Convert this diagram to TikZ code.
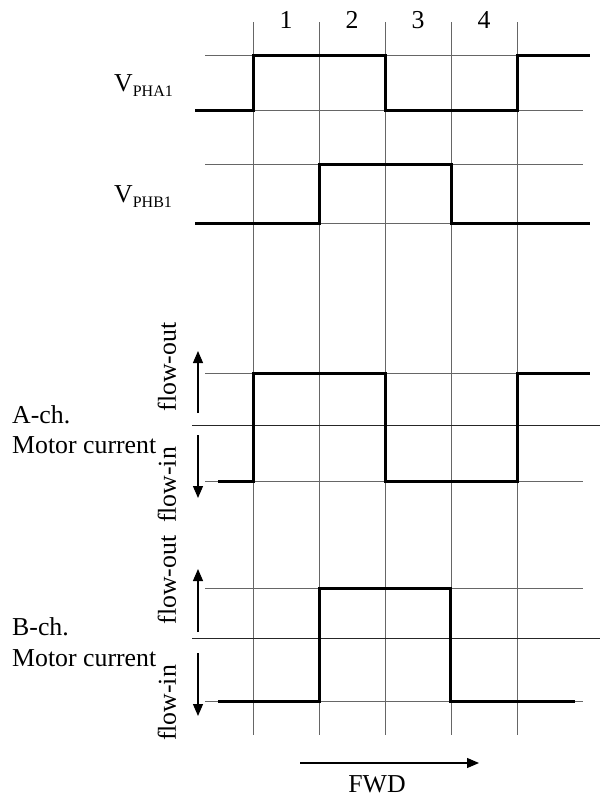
\documentclass[tikz,border=0pt]{standalone}
\usepackage{fontspec}
\setmainfont{Liberation Serif}
\usetikzlibrary{arrows.meta}
\begin{document}
\begin{tikzpicture}[x=1pt,y=-1pt,
  gridline/.style={line width=1pt, black!60},
  midline/.style={line width=1pt, black!85},
  wave/.style={line width=3pt, line join=miter, line cap=butt},
  lbl/.style={font=\fontsize{25.8}{30}\selectfont, inner sep=0pt},
  arr/.style={line width=1.2pt, -{Triangle[length=12pt,width=10pt]}}]
\useasboundingbox (0,0) rectangle (600,796);
% vertical grid
\foreach \x/\n in {253/a,319/b,385/c,451/d,517/e}{
  \coordinate (vt\n) at (\x,22);
  \coordinate (vb\n) at (\x,735);
  \draw[gridline] (vt\n) -- (vb\n);
}
% horizontal grid lines
\foreach \y/\n in {55/a1,110/a2,164/b1,223/b2,373/c1,481/c2,588/d1,701/d2}{
  \coordinate (hl\n) at (205,\y);
  \coordinate (hr\n) at (583,\y);
  \draw[gridline] (hl\n) -- (hr\n);
}
\foreach \y/\n in {425/c,638/d}{
  \coordinate (ml\n) at (192,\y);
  \coordinate (mr\n) at (600,\y);
  \draw[midline] (ml\n) -- (mr\n);
}
% waveforms
\draw[wave] (195,110) -- (253,110) -- (253,55) -- (385,55) -- (385,110) -- (517,110) -- (517,55) -- (590,55);
\draw[wave] (195,223) -- (319,223) -- (319,164) -- (451,164) -- (451,223) -- (590,223);
\draw[wave] (218,481) -- (253,481) -- (253,373) -- (385,373) -- (385,481) -- (517,481) -- (517,373) -- (590,373);
\draw[wave] (218,701) -- (319,701) -- (319,588) -- (450,588) -- (450,701) -- (575,701);
% phase numbers
\node[lbl, anchor=base] (n1) at (286,28) {1};
\node[lbl, anchor=base] (n2) at (352,28) {2};
\node[lbl, anchor=base] (n3) at (418,28) {3};
\node[lbl, anchor=base] (n4) at (484,28) {4};
% V labels
\node[lbl, anchor=base west] (vpha) at (114,91) {V\raisebox{-5pt}{\fontsize{16}{18}\selectfont PHA1}};
\node[lbl, anchor=base west] (vphb) at (114,202) {V\raisebox{-5pt}{\fontsize{16}{18}\selectfont PHB1}};
% channel labels
\node[lbl, anchor=base west] (ach) at (12,423) {A-ch.};
\node[lbl, anchor=base west] (amc) at (12,453) {Motor current};
\node[lbl, anchor=base west] (bch) at (12,635) {B-ch.};
\node[lbl, anchor=base west] (bmc) at (12,666) {Motor current};
% flow labels
\node[lbl, rotate=90] (afo) at (167,367) {flow-out};
\node[lbl, rotate=90] (afi) at (167,485) {flow-in};
\node[lbl, rotate=90] (bfo) at (167,580) {flow-out};
\node[lbl, rotate=90] (bfi) at (167,703) {flow-in};
% flow arrows
\coordinate (au0) at (198,413); \coordinate (au1) at (198,351);
\coordinate (ad0) at (198,435); \coordinate (ad1) at (198,498);
\coordinate (bu0) at (198,632); \coordinate (bu1) at (198,569);
\coordinate (bd0) at (198,653); \coordinate (bd1) at (198,716);
\draw[arr] (au0) -- (au1);
\draw[arr] (ad0) -- (ad1);
\draw[arr] (bu0) -- (bu1);
\draw[arr] (bd0) -- (bd1);
% FWD
\coordinate (f0) at (300,763); \coordinate (f1) at (479,763);
\draw[arr] (f0) -- (f1);
\node[lbl, anchor=base] (fwd) at (377,792) {FWD};
\end{tikzpicture}
\end{document}
